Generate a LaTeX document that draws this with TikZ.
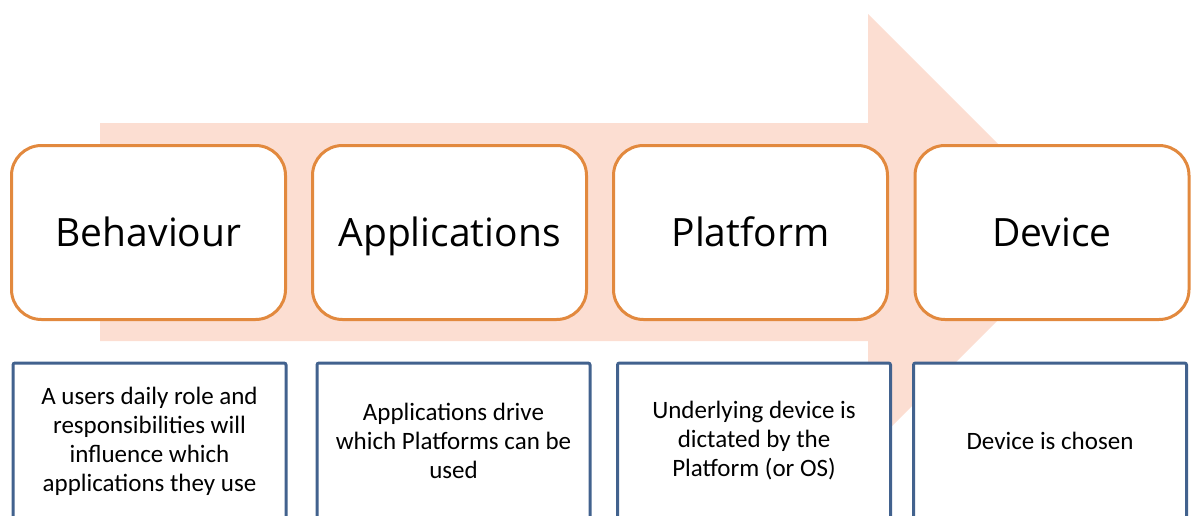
\documentclass[tikz,border=0pt]{standalone}
\usepackage{fontspec}
\setmainfont{Carlito}
\newfontfamily\headfont{Open Sans}
\definecolor{flowfill}{RGB}{252,222,210}
\definecolor{stageline}{RGB}{226,137,62}
\definecolor{noteline}{RGB}{66,98,142}
\tikzset{
  stagebox/.style={draw=stageline, line width=3pt, fill=white, rounded corners=30pt,
    minimum width=274pt, minimum height=174pt, inner sep=0pt,
    text height=27pt, text depth=0pt,
    font=\headfont\fontsize{39}{46}\selectfont, text=black},
  notebox/.style={draw=noteline, line width=3pt, fill=white, rounded corners=2pt,
    minimum width=273pt, minimum height=156pt, inner sep=0pt, align=center,
    font=\fontsize{25}{29}\selectfont, text=black}
}
\begin{document}
\begin{tikzpicture}[x=1pt,y=-1pt]
\useasboundingbox (0,0) rectangle (1202,515);
\clip (0,0) rectangle (1202,515);
% background flow arrow
\fill[flowfill] (100,123) -- (868,123) -- (868,14) -- (1086,232)
  -- (868,450) -- (868,341) -- (100,341) -- cycle;
% stage boxes
\node[stagebox] (behaviour) at (148.5,232.5) {Behaviour};
\node[stagebox] (applications) at (449.5,232.5) {Applications};
\node[stagebox] (platform) at (750.5,232.5) {Platform};
\node[stagebox] (device) at (1052,232.5) {Device};
% description boxes
\node[notebox] (noteA) at (149.5,441) {A users daily role and\\responsibilities will\\influence which\\applications they use};
\node[notebox] (noteB) at (453.5,441) {Applications drive\\which Platforms can be\\used};
\node[notebox] (noteC) at (754,441) {Underlying device is\\dictated by the\\Platform (or OS)};
\node[notebox] (noteD) at (1050,441) {Device is chosen};
\end{tikzpicture}
\end{document}
